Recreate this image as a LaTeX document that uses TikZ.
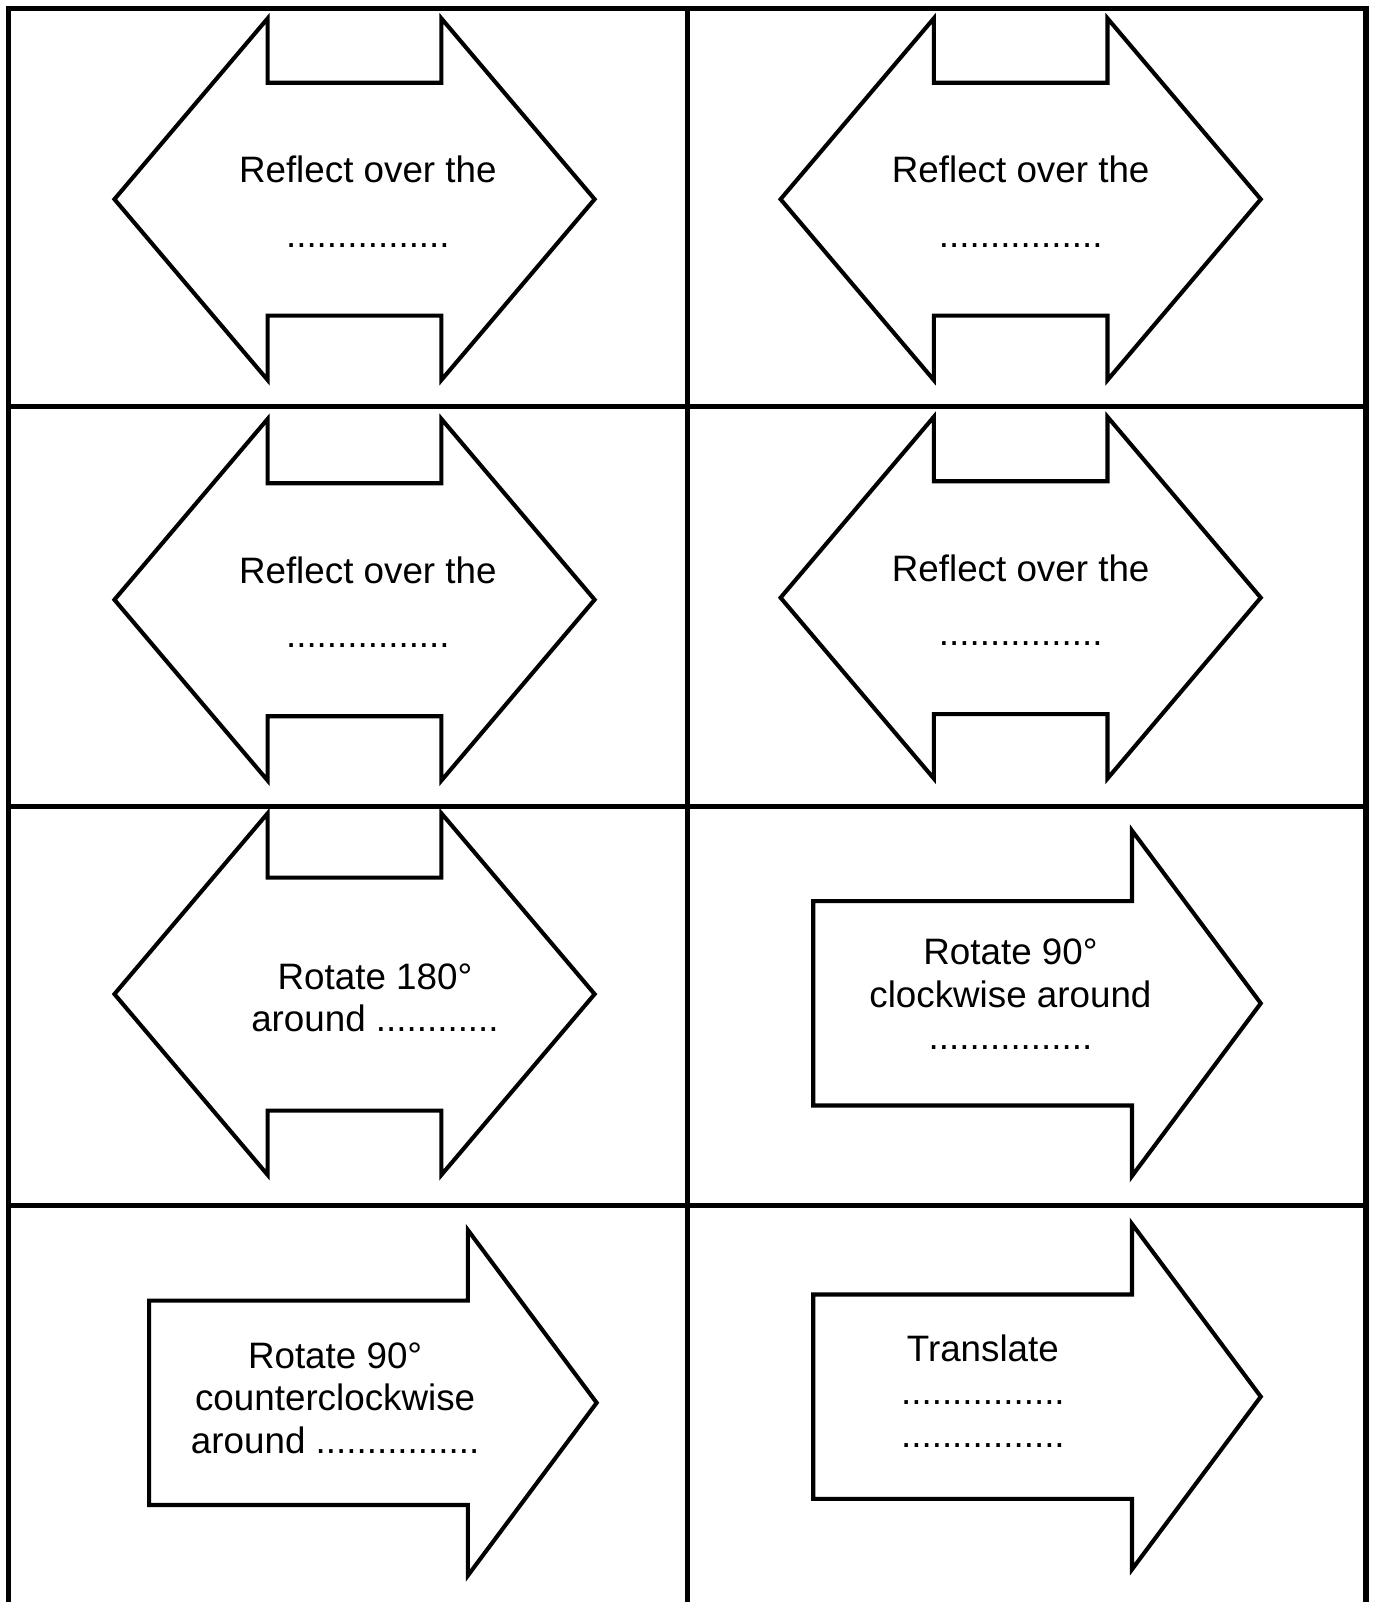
\documentclass[tikz,border=0pt]{standalone}
\usepackage{fontspec}
\setmainfont{Liberation Sans}
\usetikzlibrary{positioning}

\begin{document}
\begin{tikzpicture}[x=0.5pt, y=-0.5pt,
    grid/.style={line width=2.5pt, line join=miter},
    card/.style={draw, line width=2pt, line join=miter},
    txt/.style={font=\fontsize{18}{21}\selectfont, inner sep=0pt, text height=13pt, text depth=4pt},
    node distance=3.5pt]
                        \useasboundingbox (0,0) rectangle (1343,1568);

                        % cutting lines
                        \draw[grid] (8,1568) -- (8,8) -- (1337,8) -- (1337,1568);
                        \draw[grid] (673,8) -- (673,1568);
                        \foreach \y in {398,789,1180}
                            \draw[grid] (8,\y) -- (1337,\y);

                        % reflection cards
                        \foreach \x/\y/\t/\i in {112/195/360/1, 764/195/999/2, 112/587/360/3, 764/585/999/4} {
                            \draw[card] (\x,\y) -- ++(150,-177) -- ++(0,63) -- ++(170,0) -- ++(0,-63) -- ++(150,177) -- ++(-150,177) -- ++(0,-63) -- ++(-170,0) -- ++(0,63) -- cycle;
                            \node[txt, anchor=base] (refl\i) at (\t,\y-16) {Reflect over the};
                            \node[txt, below=14pt of refl\i] (refl\i dots) {................};
                        }

                        % rotation 180
                        \draw[card] (112,973) -- ++(150,-177) -- ++(0,63) -- ++(170,0) -- ++(0,-63) -- ++(150,177) -- ++(-150,177) -- ++(0,-63) -- ++(-170,0) -- ++(0,63) -- cycle;
                        \node[txt, anchor=base] (rot) at (367,968) {Rotate 180°};
                        \node[txt, below=of rot] (rotdots) {around ............};

                        % rotation 90 clockwise
                        \draw[card] (1234,982) -- ++(-126,-169) -- ++(0,69) -- ++(-312,0) -- ++(0,200) -- ++(312,0) -- ++(0,69) -- cycle;
                        \node[txt, anchor=base] (cw) at (989,944) {Rotate 90°};
                        \node[txt, below=of cw] (cwtxt) {clockwise around};
                        \node[txt, below=of cwtxt] (cwdots) {................};

                        % rotation 90 counterclockwise
                        \draw[card] (584,1373) -- ++(-126,-169) -- ++(0,69) -- ++(-312,0) -- ++(0,200) -- ++(312,0) -- ++(0,69) -- cycle;
                        \node[txt, anchor=base] (ccw) at (328,1339) {Rotate 90°};
                        \node[txt, below=of ccw] (ccwtxt) {counterclockwise};
                        \node[txt, below=of ccwtxt] (ccwdots) {around ................};

                        % translation
                        \draw[card] (1234,1367) -- ++(-126,-169) -- ++(0,69) -- ++(-312,0) -- ++(0,200) -- ++(312,0) -- ++(0,69) -- cycle;
                        \node[txt, anchor=base] (trans) at (962,1333) {Translate};
                        \node[txt, below=of trans] (transdots) {................};
                        \node[txt, below=of transdots] (transdots2) {................};
\end{tikzpicture}
\end{document}
